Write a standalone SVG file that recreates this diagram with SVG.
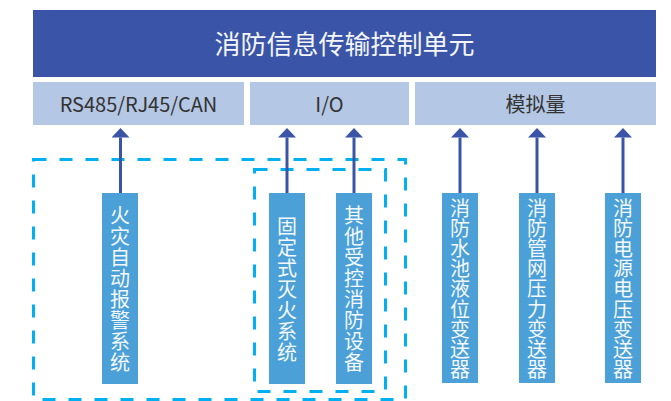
<svg xmlns="http://www.w3.org/2000/svg" width="671" height="401" viewBox="0 0 671 401">
<defs>
<style>
.top{fill:#3A55A8}
.bar{fill:#B4C7E4}
.node{fill:#4BA0D8}
.ttl{font-family:"Noto Sans CJK SC","Noto Sans",sans-serif;font-size:26px;fill:#F4F6FB;text-anchor:middle}
.lbl{font-family:"Noto Sans CJK SC","Noto Sans",sans-serif;font-size:20px;fill:#333333;text-anchor:middle}
.vt{font-family:"Noto Sans CJK SC",sans-serif;font-size:20px;fill:#F4F8FC;text-anchor:middle;writing-mode:vertical-rl;letter-spacing:1px}
.vt9{letter-spacing:0.2px}
.dash{fill:none;stroke:#00B0F0;stroke-width:3;stroke-dasharray:13 13}
.conn{stroke:#3A55A8;stroke-width:3;fill:none;marker-end:url(#ah)}
</style>
<marker id="ah" markerUnits="userSpaceOnUse" viewBox="0 0 9.5 18" refX="0" refY="9" markerWidth="9.5" markerHeight="18" orient="auto">
<path d="M0,0 L9.5,9 L0,18 Z" fill="#3A55A8"/>
</marker>
</defs>

<g id="unit">
<rect class="top" x="33" y="10" width="623" height="67"/>
<text class="ttl" x="344.5" y="54">消防信息传输控制单元</text>
</g>
<g id="bus">
<rect class="bar" x="33" y="82" width="211" height="43"/>
<text class="lbl" x="138.5" y="111.5">RS485/RJ45/CAN</text>
</g>
<g id="io">
<rect class="bar" x="250" y="82" width="159" height="43"/>
<text class="lbl" x="329.5" y="111.5">I/O</text>
</g>
<g id="analog">
<rect class="bar" x="415" y="82" width="241" height="43"/>
<text class="lbl" x="535.5" y="112">模拟量</text>
</g>

<g id="groups">
<rect class="dash" x="33.5" y="159.5" width="372" height="240"/>
<rect class="dash" x="254.5" y="169.5" width="131" height="222"/>
</g>

<g id="connectors">
<line class="conn" x1="120.5" y1="193" x2="120.5" y2="137.5"/>
<line class="conn" x1="287" y1="193" x2="287" y2="137.5"/>
<line class="conn" x1="354" y1="193" x2="354" y2="137.5"/>
<line class="conn" x1="460" y1="193" x2="460" y2="137.5"/>
<line class="conn" x1="537" y1="193" x2="537" y2="137.5"/>
<line class="conn" x1="623" y1="193" x2="623" y2="137.5"/>
</g>

<g id="fas">
<rect class="node" x="102" y="193" width="36" height="191"/>
<text class="vt" x="120" y="289.5">火灾自动报警系统</text>
</g>
<g id="fixed">
<rect class="node" x="269" y="193" width="36" height="191"/>
<text class="vt" x="287" y="289.5">固定式灭火系统</text>
</g>
<g id="other">
<rect class="node" x="336" y="193" width="36" height="191"/>
<text class="vt" x="354" y="289.5">其他受控消防设备</text>
</g>
<g id="level">
<rect class="node" x="442" y="193" width="36" height="190"/>
<text class="vt vt9" x="460" y="289">消防水池液位变送器</text>
</g>
<g id="pressure">
<rect class="node" x="519" y="193" width="36" height="190"/>
<text class="vt vt9" x="537" y="289">消防管网压力变送器</text>
</g>
<g id="voltage">
<rect class="node" x="605" y="193" width="36" height="190"/>
<text class="vt vt9" x="623" y="289">消防电源电压变送器</text>
</g>
</svg>
